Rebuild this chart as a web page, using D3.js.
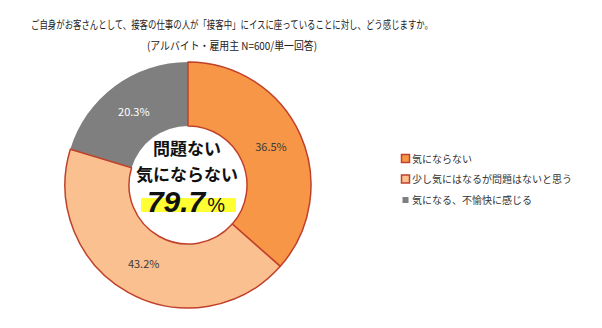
<!DOCTYPE html>
<html><head><meta charset="utf-8">
<script src="https://cdn.jsdelivr.net/npm/d3@7"></script>
<style>
html,body{margin:0;padding:0;background:#fff;}
text{font-family:"Noto Sans CJK JP","Noto Sans",sans-serif;}
</style></head>
<body><svg id="c" width="602" height="328"></svg>
<script>
const title = "ご自身がお客さんとして、接客の仕事の人が「接客中」にイスに座っていることに対し、どう感じますか。";
const subtitle = "(アルバイト・雇用主 N=600/単一回答)";
const categories = ["気にならない", "少し気にはなるが問題はないと思う", "気になる、不愉快に感じる"];
const values = [36.5, 43.2, 20.3];
const colors = ["#F79646", "#FAC08F", "#7F7F7F"];
const labelColors = ["#3a3a3a", "#3a3a3a", "#ffffff"];
const centerLines = ["問題ない", "気にならない"];
const centerValue = "79.7";

const svg = d3.select("#c");
const cx = 188, cy = 185, R = 123, r = 59;
const border = "#C0402A";

svg.append("text").attr("x", 232).attr("y", 29).attr("text-anchor", "middle")
  .attr("font-size", 11).attr("fill", "#222")
  .attr("textLength", 402).attr("lengthAdjust", "spacingAndGlyphs").text(title);
svg.append("text").attr("x", 232).attr("y", 50).attr("text-anchor", "middle")
  .attr("font-size", 11).attr("fill", "#222")
  .attr("textLength", 170).attr("lengthAdjust", "spacingAndGlyphs").text(subtitle);

const data = categories.map((c, i) => ({c, v: values[i], i}));
const pie = d3.pie().value(d => d.v).sort(null);
const arcs = pie(data);
const arc = d3.arc().innerRadius(r).outerRadius(R);
const labelArc = d3.arc().innerRadius(91).outerRadius(91);

const g = svg.append("g").attr("transform", `translate(${cx},${cy})`);
const order = [2, 0, 1];
g.selectAll("path").data(order.map(k => arcs[k])).join("path")
  .attr("d", arc)
  .attr("fill", d => colors[d.data.i])
  .attr("stroke", d => d.data.i === 2 ? "none" : border)
  .attr("stroke-width", 1.5)
  .attr("stroke-linejoin", "round");

g.selectAll("text.lbl").data(arcs).join("text").attr("class", "lbl")
  .attr("transform", d => `translate(${labelArc.centroid(d)})`)
  .attr("text-anchor", "middle").attr("dy", "0.35em")
  .attr("font-size", 11).attr("fill", d => labelColors[d.data.i])
  .text(d => d.data.v.toFixed(1) + "%");

// center text
g.append("rect").attr("x", -47).attr("y", 13).attr("width", 95).attr("height", 14).attr("fill", "#FFFF33");
centerLines.forEach((t, i) => {
  g.append("text").attr("x", -1).attr("y", -30 + i * 26).attr("text-anchor", "middle")
    .attr("font-size", 17).attr("font-weight", "bold").attr("fill", "#111").text(t);
});
const ct = g.append("text").attr("x", -2).attr("y", 27).attr("text-anchor", "middle").attr("fill", "#111");
ct.append("tspan").attr("font-family", "Liberation Sans, Arial, sans-serif").attr("font-size", 30)
  .attr("font-weight", "bold").attr("font-style", "italic").text(centerValue);
ct.append("tspan").attr("font-family", "Liberation Sans, Arial, sans-serif").attr("font-size", 20).attr("dx", 2).text("%");

// legend
const lg = svg.append("g");
categories.forEach((c, i) => {
  const y = 159 + i * 20.5;
  if (i < 2) {
    lg.append("rect").attr("x", 401.5).attr("y", y - 4.5).attr("width", 8).attr("height", 8)
      .attr("fill", colors[i]).attr("stroke", border).attr("stroke-width", 1.5);
  } else {
    lg.append("rect").attr("x", 402.5).attr("y", y - 3).attr("width", 6).attr("height", 6).attr("fill", colors[i]);
  }
  lg.append("text").attr("x", 412).attr("y", y).attr("dy", "0.35em").attr("font-size", 10)
    .attr("fill", "#333").text(c);
});
</script></body></html>
